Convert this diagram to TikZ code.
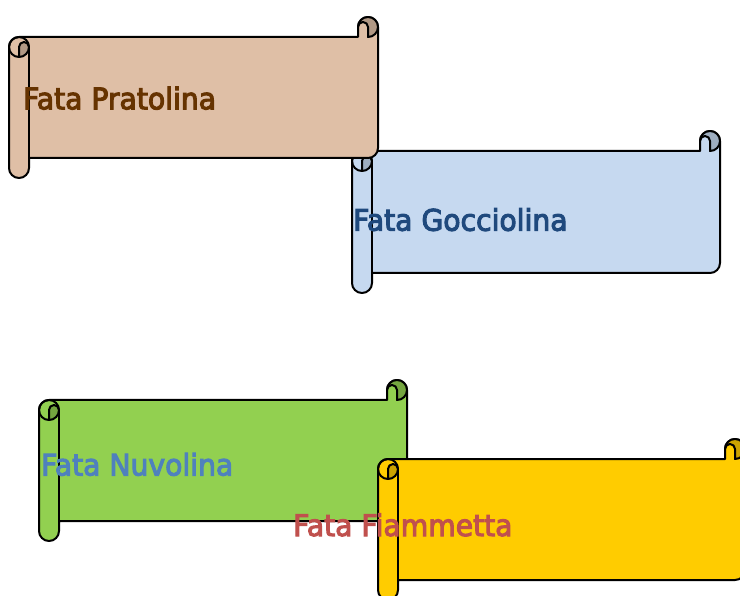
\documentclass[tikz,border=0pt]{standalone}
\usepackage{fontspec}
\setmainfont{DejaVu Sans}
\newfontfamily\scrollfont[FakeBold=3.5, FakeStretch=0.95]{DejaVu Sans}

\definecolor{tanfill}{HTML}{DFBFA6}
\definecolor{tandark}{HTML}{B29985}
\definecolor{bluefill}{HTML}{C6D9F0}
\definecolor{bluedark}{HTML}{9EAEC0}
\definecolor{greenfill}{HTML}{92D050}
\definecolor{greendark}{HTML}{75A640}
\definecolor{yellowfill}{HTML}{FFCC00}
\definecolor{yellowdark}{HTML}{CCA300}
\definecolor{brownink}{HTML}{663300}
\definecolor{navyink}{HTML}{1F497D}
\definecolor{skyink}{HTML}{4F81BD}
\definecolor{redink}{HTML}{C0504D}

\tikzset{
  scrollline/.style={draw=black, line width=2pt, line join=round},
  scrolltext/.style={anchor=base west, inner sep=0pt, font=\scrollfont\fontsize{29.7}{32}\selectfont},
}

% Horizontal scroll: #1 left, #2 top, #3 right, #4 bottom, #5 fill, #6 shaded curls
\newcommand\drawscroll[6]{%
  % outline of sheet and rolls
  \path[scrollline, fill=#5]
    (#1,#2+30) arc[start angle=-180, end angle=-270, radius=10pt]
    -- (#3-20,#2+20) -- (#3-20,#2+10)
    arc[start angle=-180, end angle=-360, radius=10pt]
    -- (#3,#4-30) arc[start angle=0, end angle=-90, radius=10pt]
    -- (#1+20,#4-20) -- (#1+20,#4-10)
    arc[start angle=0, end angle=-180, radius=10pt] -- cycle;
  % shaded inside of the upper right curl
  \fill[#6] (#3-10,#2+20) arc[start angle=-90, end angle=180, radius=10pt]
    arc[start angle=-180, end angle=-360, radius=5pt] -- cycle;
  \draw[scrollline] (#3-10,#2+20) arc[start angle=-90, end angle=180, radius=10pt]
    arc[start angle=-180, end angle=-360, radius=5pt] -- cycle;
  % shaded inside of the left roll
  \fill[#6] (#1+10,#2+40) arc[start angle=-90, end angle=0, radius=10pt]
    arc[start angle=0, end angle=180, radius=5pt] -- cycle;
  \draw[scrollline] (#1+10,#2+30) circle[radius=10pt];
  \draw[scrollline] (#1+10,#2+40) -- (#1+10,#2+30)
    arc[start angle=180, end angle=0, radius=5pt];
  \draw[scrollline] (#1+20,#2+30) -- (#1+20,#4-20);
}

\begin{document}
\begin{tikzpicture}[x=1pt, y=-1pt]
  \useasboundingbox (0,0) rectangle (740,596);
  \clip (0,0) rectangle (740,596);

  \drawscroll{352}{131}{720}{293}{bluefill}{bluedark}
  \drawscroll{9}{17}{378}{178}{tanfill}{tandark}
  \drawscroll{39}{380}{407}{541}{greenfill}{greendark}
  \drawscroll{378}{439}{745}{600}{yellowfill}{yellowdark}

  \node[scrolltext, text=brownink] (pratolina) at (23,109.3) {Fata Pratolina};
  \node[scrolltext, text=navyink] (gocciolina) at (353,230.7) {Fata Gocciolina};
  \node[scrolltext, text=skyink] (nuvolina) at (41,475.5) {Fata Nuvolina};
  \node[scrolltext, text=redink] (fiammetta) at (293,536) {Fata Fiammetta};
\end{tikzpicture}
\end{document}
